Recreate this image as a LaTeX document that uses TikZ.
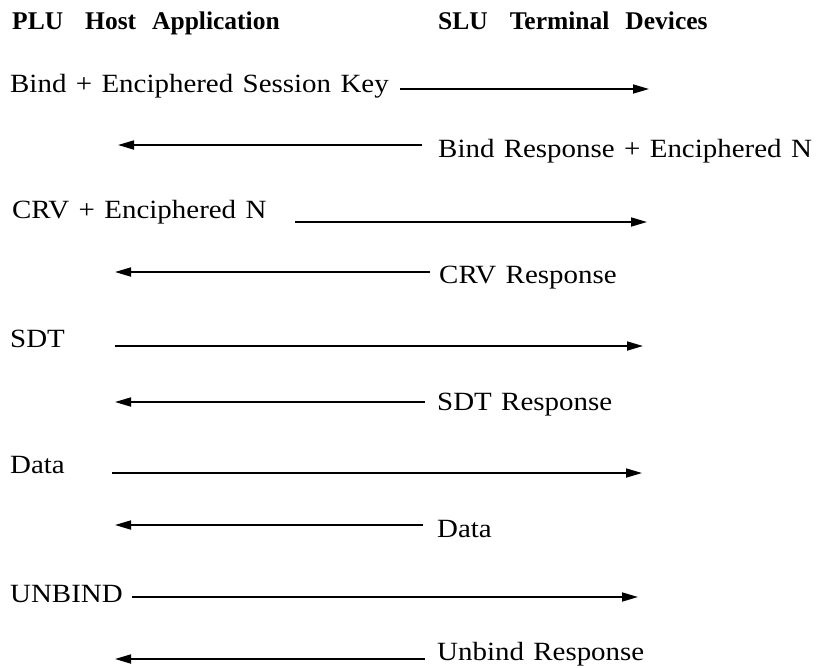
\documentclass[tikz,border=0pt]{standalone}
\usepackage{fontspec}
\setmainfont{Liberation Serif}[FakeStretch=1.1,WordSpace=1.3]
\newfontfamily\hdfont{Liberation Serif}
\usetikzlibrary{arrows.meta}
\begin{document}
\begin{tikzpicture}[x=1pt,y=1pt,
  msg/.style={anchor=base west,inner sep=0pt,font=\fontsize{26.3}{30}\selectfont},
  hdr/.style={anchor=base west,inner sep=0pt,font=\hdfont\bfseries\fontsize{25.5}{30}\selectfont},
  flow/.style={line width=1.7pt,-{Triangle[length=16pt,width=9pt]}}]
\useasboundingbox (0,0) rectangle (825,-667);
% headers
\node[hdr] (plu) at (12,-29) {PLU\hspace{22pt}Host\hspace{16pt}Application};
\node[hdr] (slu) at (438,-29) {SLU\hspace{22pt}Terminal\hspace{16pt}Devices};
% row 1
\node[msg] (t1) at (10,-92) {Bind + Enciphered Session Key};
\coordinate (s1) at (400,-89); \coordinate (e1) at (649,-89);
\draw[flow] (s1) -- (e1);
% row 2
\node[msg] (t2) at (438,-157) {Bind Response + Enciphered N};
\coordinate (s2) at (422,-145); \coordinate (e2) at (118,-145);
\draw[flow] (s2) -- (e2);
% row 3
\node[msg] (t3) at (12,-218) {CRV + Enciphered N};
\coordinate (s3) at (295,-222); \coordinate (e3) at (647,-222);
\draw[flow] (s3) -- (e3);
% row 4
\node[msg] (t4) at (439,-283) {CRV Response};
\coordinate (s4) at (430,-272); \coordinate (e4) at (115,-272);
\draw[flow] (s4) -- (e4);
% row 5
\node[msg] (t5) at (10,-347) {SDT};
\coordinate (s5) at (115,-346); \coordinate (e5) at (643,-346);
\draw[flow] (s5) -- (e5);
% row 6
\node[msg] (t6) at (437,-410) {SDT Response};
\coordinate (s6) at (425,-402); \coordinate (e6) at (115,-402);
\draw[flow] (s6) -- (e6);
% row 7
\node[msg] (t7) at (10,-473) {Data};
\coordinate (s7) at (112,-473); \coordinate (e7) at (642,-473);
\draw[flow] (s7) -- (e7);
% row 8
\node[msg] (t8) at (437,-537) {Data};
\coordinate (s8) at (423,-525); \coordinate (e8) at (115,-525);
\draw[flow] (s8) -- (e8);
% row 9
\node[msg] (t9) at (10,-602) {UNBIND};
\coordinate (s9) at (132,-597); \coordinate (e9) at (638,-597);
\draw[flow] (s9) -- (e9);
% row 10
\node[msg] (t10) at (437,-660) {Unbind Response};
\coordinate (s10) at (425,-659); \coordinate (e10) at (115,-659);
\draw[flow] (s10) -- (e10);
\end{tikzpicture}
\end{document}
